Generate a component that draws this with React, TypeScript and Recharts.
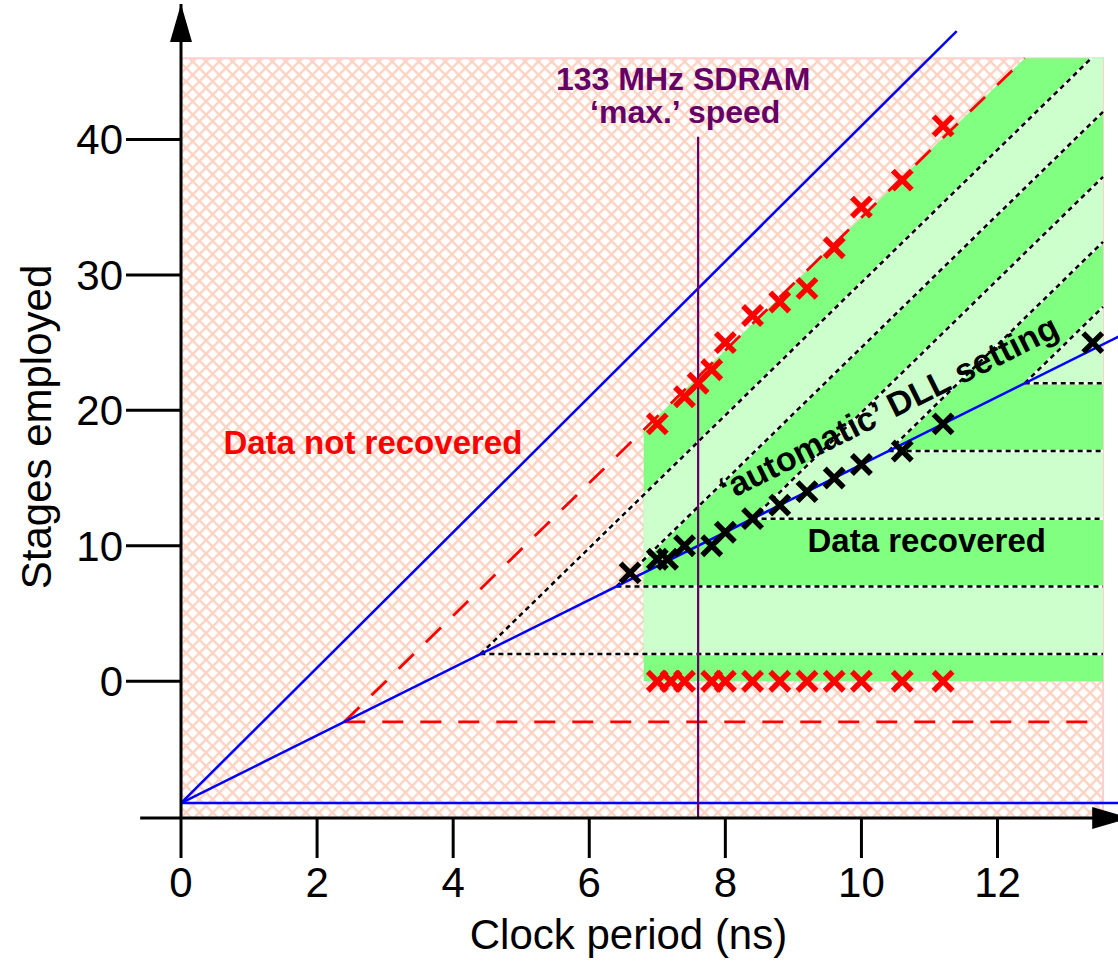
import React from "react";
import {
  ComposedChart, XAxis, YAxis, Area, Scatter, ReferenceArea, ReferenceLine, ReferenceDot,
} from "recharts";

const FONT = '"Liberation Sans", Arial, Helvetica, sans-serif';

const xTicks = [0, 2, 4, 6, 8, 10, 12];
const yTicks = [0, 10, 20, 30, 40];

// red crosses along the upper limit (data not recovered)
const failHighX = [7.0, 7.4, 7.6, 7.8, 8.0, 8.4, 8.8, 9.2, 9.6, 10.0, 10.6, 11.2];
const failHighY = [19, 21, 22, 23, 25, 27, 28, 29, 32, 35, 37, 41];
// red crosses at zero stages
const failLowX = [7.0, 7.2, 7.4, 7.8, 8.0, 8.4, 8.8, 9.2, 9.6, 10.0, 10.6, 11.2];
// black crosses: automatic DLL setting
const autoX = [6.6, 7.0, 7.15, 7.4, 7.8, 8.0, 8.4, 8.8, 9.2, 9.6, 10.0, 10.6, 11.2, 13.4];
const autoY = [8, 9, 9, 10, 10, 11, 12, 13, 14, 15, 16, 17, 19, 25];

// green bands: [x, low, high]
const envelope = [[6.8, 0, 18.56], [12.4, 0, 46], [13.55, 0, 46]];
const bandA = [[6.8, 2, 13.76], [13.38, 2, 46], [13.55, 2, 46]];
const bandB = [[6.8, 7, 8.96], [13.55, 7, 42.04]];
const bandC = [[8.4, 12, 12], [13.55, 12, 37.24]];
const bandD = [[10.4, 17, 17], [13.55, 17, 32.44]];
const bandE = [[12.4, 22, 22], [13.55, 22, 27.64]];

// dotted step lines start on the DLL line
const stepX = [4.4, 6.4, 8.4, 10.4, 12.4];
const stepY = [2, 7, 12, 17, 22];
const stepDiagEndX = [13.38, 13.55, 13.55, 13.55, 13.55];
const stepDiagEndY = [46, 42.04, 37.24, 32.44, 27.64];
const stepEndX = 13.55;

const blueLines = [
  [[0, -9], [11.4, 48]],
  [[0, -9], [13.8, 25.5]],
  [[0, -9], [13.8, -9]],
];
const redDashed = [
  [[2.4, -3], [12.4, 46]],
  [[2.4, -3], [13.55, -3]],
];
const sdramX = 7.6;
const sdramTop = 40.2;

const GREEN_DARK = "#80ff80";
const GREEN_LIGHT = "#ccffcc";

const toArea = (pts: number[][]) => pts.map(([x, lo, hi]) => ({ x, r: [lo, hi] }));
const toPts = (xs: number[], ys: number[]) => xs.map((x, i) => ({ x, y: ys[i] }));

const cross = (color: string) => (p: any) => {
  const { cx, cy } = p;
  const s = 9.5;
  return (
    <path
      d={`M${cx - s},${cy - s}L${cx + s},${cy + s}M${cx + s},${cy - s}L${cx - s},${cy + s}`}
      stroke={color}
      strokeWidth={5.5}
      fill="none"
    />
  );
};

const note = (text: string, color: string, angle = 0, size = 33) => (p: any) => (
  <text
    x={p.cx}
    y={p.cy}
    textAnchor="middle"
    fill={color}
    fontSize={size}
    fontWeight="bold"
    fontFamily={FONT}
    transform={angle ? `rotate(${angle} ${p.cx} ${p.cy})` : undefined}
    dy={angle ? "0.35em" : 0}
  >
    {text}
  </text>
);

const bands = [
  { d: envelope, c: GREEN_DARK },
  { d: bandA, c: GREEN_LIGHT },
  { d: bandB, c: GREEN_DARK },
  { d: bandC, c: GREEN_LIGHT },
  { d: bandD, c: GREEN_DARK },
  { d: bandE, c: GREEN_LIGHT },
];

export default function App() {
  return (
    <div style={{ position: "absolute", left: 0, top: 0, width: 1118, height: 963, overflow: "hidden", background: "#fff" }}>
      <svg width={0} height={0} style={{ position: "absolute" }}>
        <defs>
          <pattern id="hatch" patternUnits="userSpaceOnUse" width={9.4} height={9.4} patternTransform="rotate(45)">
            <rect width={9.4} height={9.4} fill="#fff" />
            <rect width={9.4} height={2.4} fill="#fcd3c2" />
            <rect width={2.4} height={9.4} fill="#fcd3c2" />
          </pattern>
        </defs>
      </svg>
      <ComposedChart
        width={1120}
        height={963}
        margin={{ top: 4, right: 0, bottom: 0, left: 0 }}
        style={{ fontFamily: FONT }}
      >
        <ReferenceArea
          x1={0} x2={13.55} y1={-10.1} y2={46}
          fill="url(#hatch)" fillOpacity={1} stroke="#fcd0d0" strokeWidth={2}
          ifOverflow="visible" zIndex={-10}
        />
        {bands.map((b, i) => (
          <Area
            key={`band${i}`}
            data={toArea(b.d)}
            dataKey="r"
            type="linear"
            fill={b.c}
            fillOpacity={1}
            stroke="none"
            isAnimationActive={false}
            activeDot={false}
            dot={false}
            zIndex={100 + i}
          />
        ))}
        {stepX.map((x, i) => (
          <React.Fragment key={`step${i}`}>
            <ReferenceLine segment={[{ x, y: stepY[i] }, { x: stepEndX, y: stepY[i] }]} stroke="#fff" strokeWidth={2.5} zIndex={300} />
            <ReferenceLine segment={[{ x, y: stepY[i] }, { x: stepEndX, y: stepY[i] }]} stroke="#000" strokeWidth={2.5} strokeDasharray="5 4" zIndex={301} />
            <ReferenceLine segment={[{ x, y: stepY[i] }, { x: stepDiagEndX[i], y: stepDiagEndY[i] }]} stroke="#fff" strokeWidth={2.5} zIndex={300} />
            <ReferenceLine segment={[{ x, y: stepY[i] }, { x: stepDiagEndX[i], y: stepDiagEndY[i] }]} stroke="#000" strokeWidth={2.5} strokeDasharray="5 4" zIndex={301} />
          </React.Fragment>
        ))}
        {redDashed.map((s, i) => (
          <ReferenceLine
            key={`red${i}`}
            segment={[{ x: s[0][0], y: s[0][1] }, { x: s[1][0], y: s[1][1] }]}
            stroke="#ff0000" strokeWidth={2.8} strokeDasharray="21 17" zIndex={320}
          />
        ))}
        {blueLines.map((s, i) => (
          <ReferenceLine
            key={`blue${i}`}
            segment={[{ x: s[0][0], y: s[0][1] }, { x: s[1][0], y: s[1][1] }]}
            stroke="#0000ff" strokeWidth={2.5} ifOverflow="visible" zIndex={330}
          />
        ))}
        <ReferenceLine
          segment={[{ x: sdramX, y: -10.1 }, { x: sdramX, y: sdramTop }]}
          stroke="#660066" strokeWidth={2.2} zIndex={340}
        />
        <XAxis
          type="number"
          dataKey="x"
          domain={[0, 13.8]}
          allowDataOverflow
          ticks={xTicks}
          interval={0}
          height={145}
          tickSize={40}
          tickMargin={9}
          tick={{ fill: "#000", fontSize: 42, fontFamily: FONT }}
          tickLine={{ stroke: "#000", strokeWidth: 3 }}
          axisLine={{ stroke: "#000", strokeWidth: 3 }}
          label={(p: any) => {
            const vb = p.viewBox || { x: 181, y: 818, width: 939, height: 145 };
            return (
              <text x={vb.x + vb.width / 2 - 22} y={vb.y + vb.height - 14} textAnchor="middle" fontSize={42} fontFamily={FONT} fill="#000">
                Clock period (ns)
              </text>
            );
          }}
        />
        <YAxis
          type="number"
          domain={[-10.1, 50]}
          allowDataOverflow
          ticks={yTicks}
          interval={0}
          width={181}
          tickSize={55}
          tickMargin={3}
          tick={{ fill: "#000", fontSize: 42, fontFamily: FONT }}
          tickLine={{ stroke: "#000", strokeWidth: 3 }}
          axisLine={{ stroke: "#000", strokeWidth: 3 }}
          label={(p: any) => {
            const vb = p.viewBox || { x: 0, y: 4, width: 181, height: 814 };
            const cx = vb.x + 36;
            const cy = vb.y + vb.height / 2 + 16;
            return (
              <text x={cx} y={cy} dy="0.35em" textAnchor="middle" fontSize={42} fontFamily={FONT} fill="#000" transform={`rotate(-90 ${cx} ${cy})`}>
                Stages employed
              </text>
            );
          }}
        />
        <ReferenceLine
          segment={[{ x: -0.6, y: -10.1 }, { x: 0, y: -10.1 }]}
          stroke="#000" strokeWidth={3} ifOverflow="visible" zIndex={500}
        />
        <ReferenceDot
          x={0} y={50} r={0} ifOverflow="visible" zIndex={510}
          shape={(p: any) => <polygon points={`${p.cx},${p.cy} ${p.cx - 11},${p.cy + 38} ${p.cx + 11},${p.cy + 38}`} fill="#000" />}
        />
        <ReferenceDot
          x={13.95} y={-10.1} r={0} ifOverflow="visible" zIndex={510}
          shape={(p: any) => <polygon points={`${p.cx},${p.cy} ${p.cx - 38},${p.cy - 11} ${p.cx - 38},${p.cy + 11}`} fill="#000" />}
        />
        <Scatter data={toPts(failHighX, failHighY)} dataKey="y" shape={cross("#ff0000")} isAnimationActive={false} zIndex={600} />
        <Scatter data={toPts(failLowX, failLowX.map(() => 0))} dataKey="y" shape={cross("#ff0000")} isAnimationActive={false} zIndex={600} />
        <Scatter data={toPts(autoX, autoY)} dataKey="y" shape={cross("#000")} isAnimationActive={false} zIndex={600} />
        <ReferenceDot x={7.38} y={43.65} r={0} ifOverflow="visible" zIndex={2000} shape={note("133 MHz SDRAM", "#660066", 0, 32)} />
        <ReferenceDot x={7.41} y={41.2} r={0} ifOverflow="visible" zIndex={2000} shape={note("\u2018max.\u2019 speed", "#660066", 0, 32)} />
        <ReferenceDot x={2.82} y={16.75} r={0} ifOverflow="visible" zIndex={2000} shape={note("Data not recovered", "#ff0000")} />
        <ReferenceDot x={10.96} y={9.55} r={0} ifOverflow="visible" zIndex={2000} shape={note("Data recovered", "#000")} />
        <ReferenceDot x={10.4} y={20.2} r={0} ifOverflow="visible" zIndex={2000} shape={note("\u2018automatic\u2019 DLL setting", "#000", -26.5, 34)} />
      </ComposedChart>
    </div>
  );
}
